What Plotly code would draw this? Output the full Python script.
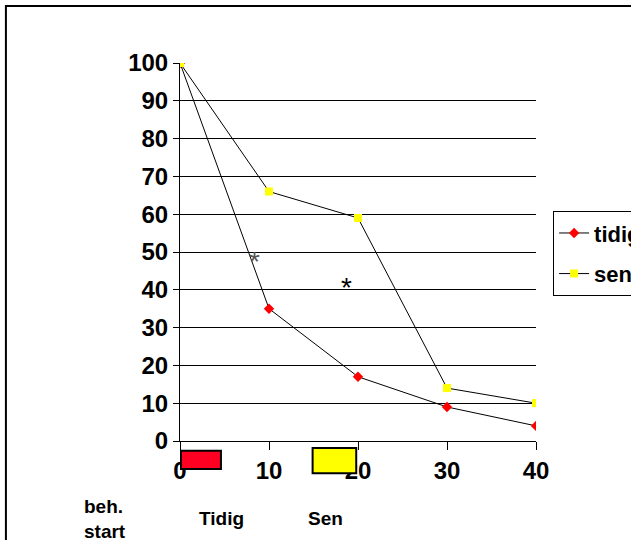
import plotly.graph_objects as go

# Weeks after treatment start and remaining percentage per group
weeks = [0, 10, 20, 30, 40]
tidig = [100, 35, 17, 9, 4]
sen = [100, 66, 59, 14, 10]

y_ticks = [0, 10, 20, 30, 40, 50, 60, 70, 80, 90, 100]
x_ticks = [0, 10, 20, 30, 40]

# Treatment periods shown as bars under the x axis
tidig_period = [0.1, 4.6]
sen_period = [14.9, 19.8]

FONT = "Liberation Sans, Arial, sans-serif"

fig = go.Figure()
fig.add_trace(go.Scatter(
    x=weeks, y=tidig, name="tidig", mode="lines+markers",
    line=dict(color="black", width=1),
    marker=dict(symbol="diamond", color="red", size=8),
    legendgroup="a",
))
fig.add_trace(go.Scatter(
    x=weeks, y=sen, name="sen", mode="lines+markers",
    line=dict(color="black", width=1),
    marker=dict(symbol="square", color="yellow", size=8),
    legendgroup="b",
))

shapes = [
    # outer frame
    dict(type="rect", xref="paper", yref="paper",
         x0=-0.489, x1=2.0, y0=-1.0, y1=1.151,
         line=dict(color="black", width=2), fillcolor="rgba(0,0,0,0)", layer="below"),
    dict(type="rect", xref="x", yref="paper",
         x0=tidig_period[0], x1=tidig_period[1], y0=-0.074, y1=-0.026,
         line=dict(color="black", width=2), fillcolor="#ff0022"),
    dict(type="rect", xref="x", yref="paper",
         x0=sen_period[0], x1=sen_period[1], y0=-0.085, y1=-0.0185,
         line=dict(color="black", width=2), fillcolor="yellow"),
]

annotations = [
    dict(x=8.4, y=47.5, xref="x", yref="y", text="*", showarrow=False,
         font=dict(family=FONT, size=28, color="#555555")),
    dict(x=18.7, y=40.5, xref="x", yref="y", text="*", showarrow=False,
         font=dict(family=FONT, size=28, color="black")),
    dict(x=-0.275, y=-0.207, xref="paper", yref="paper", text="<b>beh.<br>start</b>",
         showarrow=False, align="left", xanchor="left", yanchor="middle",
         font=dict(family=FONT, size=19, color="black")),
    dict(x=0.117, y=-0.205, xref="paper", yref="paper", text="<b>Tidig</b>",
         showarrow=False, xanchor="center", yanchor="middle",
         font=dict(family=FONT, size=19, color="black")),
    dict(x=0.41, y=-0.205, xref="paper", yref="paper", text="<b>Sen</b>",
         showarrow=False, xanchor="center", yanchor="middle",
         font=dict(family=FONT, size=19, color="black")),
]

fig.update_layout(
    width=631, height=540,
    margin=dict(l=180, r=95, t=63, b=99, autoexpand=False),
    paper_bgcolor="white", plot_bgcolor="white",
    showlegend=True,
    legend=dict(
        x=1.048, y=0.608, xanchor="left", yanchor="top",
        bordercolor="black", borderwidth=1, bgcolor="white",
        font=dict(family=FONT, size=22, color="black", weight="bold"),
        traceorder="grouped", tracegroupgap=9,
        itemwidth=30,
    ),
    xaxis=dict(
        range=[0, 40], tickvals=x_ticks, showgrid=False, zeroline=False,
        showline=True, linecolor="black", linewidth=1,
        ticks="outside", ticklen=8, tickcolor="black",
        tickfont=dict(family=FONT, size=24, color="black", weight="bold"),
    ),
    yaxis=dict(
        range=[0, 100], tickvals=y_ticks, showgrid=True, gridcolor="black",
        gridwidth=1, zeroline=False,
        showline=True, linecolor="black", linewidth=1,
        ticks="outside", ticklen=6, tickcolor="black",
        tickfont=dict(family=FONT, size=24, color="black", weight="bold"),
    ),
    shapes=shapes,
    annotations=annotations,
)

fig.write_html("out.html")
